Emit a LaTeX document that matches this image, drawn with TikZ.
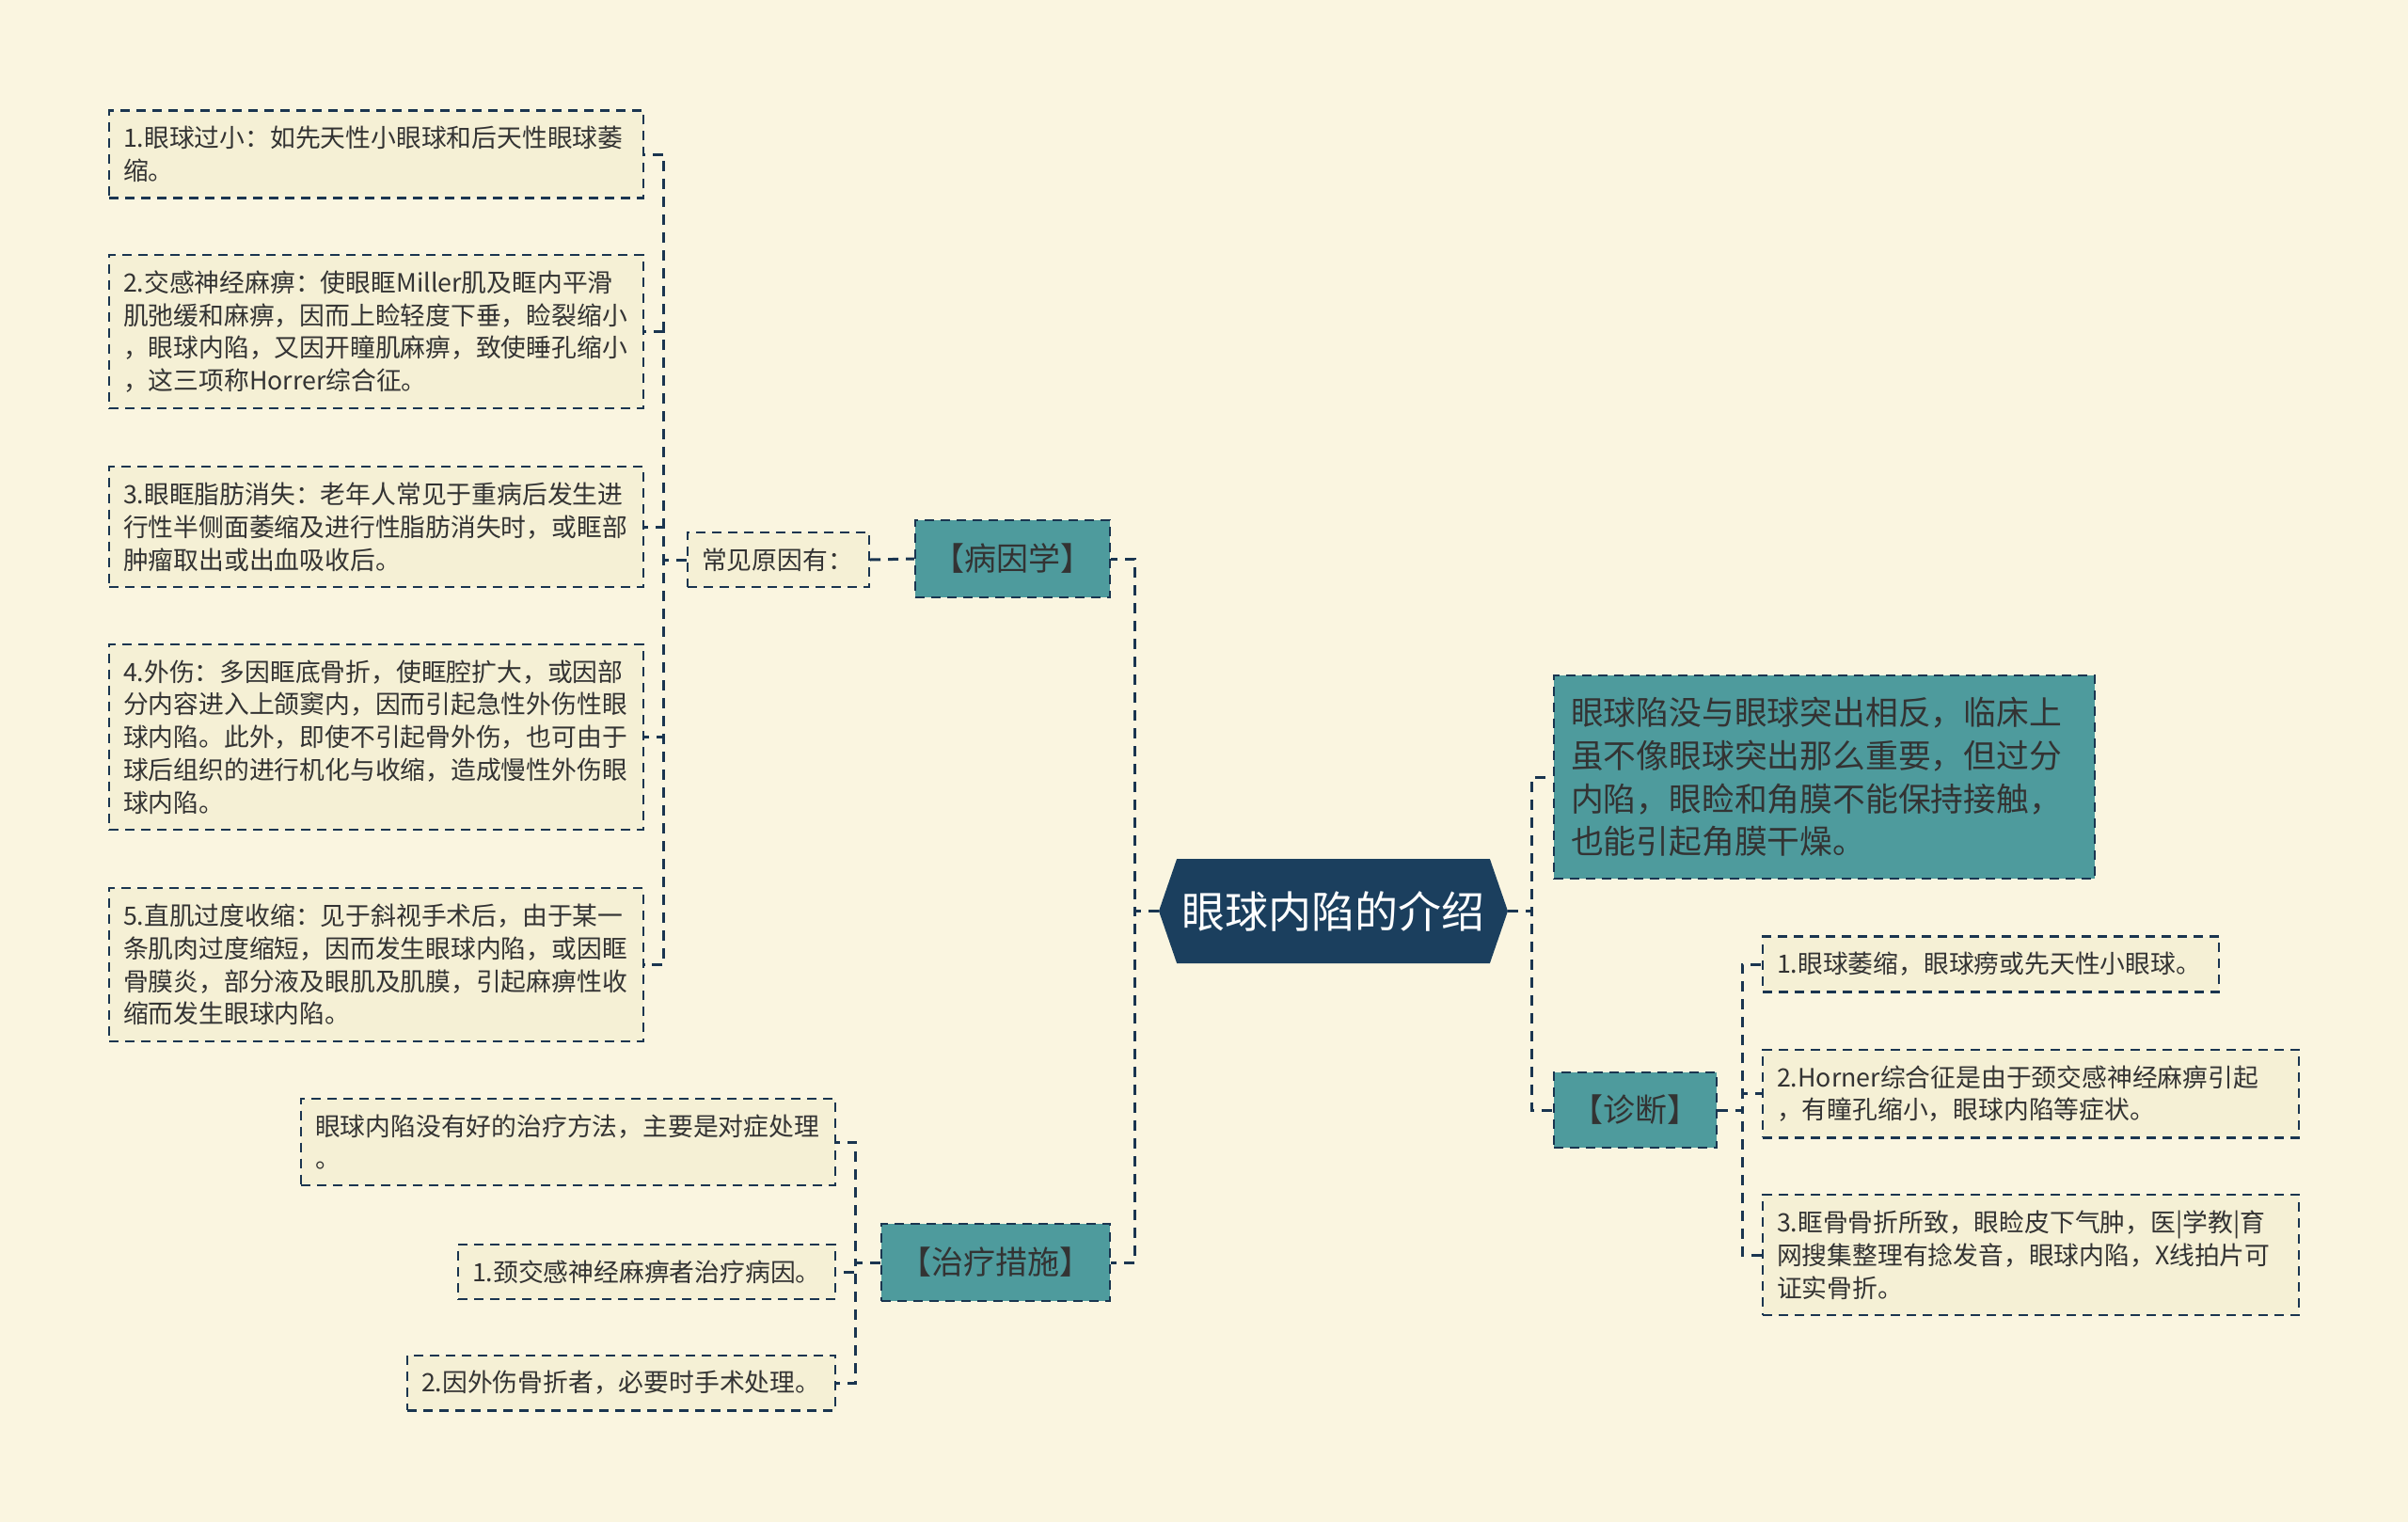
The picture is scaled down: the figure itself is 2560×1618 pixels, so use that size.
\documentclass[tikz,border=0pt]{standalone}
\usepackage{fontspec}
\setmainfont{Noto Sans CJK SC}
\usetikzlibrary{shapes.symbols}
\definecolor{bgcream}{HTML}{FAF5E0}
\definecolor{leaffill}{HTML}{F5F0D5}
\definecolor{tealbox}{HTML}{4E9B9D}
\definecolor{navyhub}{HTML}{1B3F5E}
\definecolor{edge}{HTML}{1A3550}
\definecolor{ink}{HTML}{333333}
\begin{document}
\begin{tikzpicture}[x=0.5pt,y=-0.5pt,
  leaf/.style={draw=edge,fill=leaffill,text=ink,dash pattern=on 5pt off 3.5pt,line width=1.2pt,
    font=\fontsize{13.4}{17.4}\selectfont,align=left,inner xsep=7.5pt,inner ysep=8.3pt},
  topic/.style={draw=edge,fill=tealbox,text=ink,dash pattern=on 5pt off 3.5pt,line width=1.2pt,
    font=\fontsize{17}{22}\selectfont,inner sep=0pt},
  link/.style={draw=edge,dash pattern=on 5.5pt off 4pt,line width=1.5pt}]
\useasboundingbox (0,0) rectangle (2560,1618);
\fill[bgcream] (0,0) rectangle (2560,1618);
\node[shape=signal,signal to=east and west,signal pointer angle=142,fill=navyhub,text=white,
  minimum width=185.5pt,minimum height=55.5pt,inner sep=0pt,font=\fontsize{23}{28}\selectfont] (hub) at (1417.5,968.5) {眼球内陷的介绍};
\node[topic,minimum width=103.5pt,minimum height=41pt] (cause) at (1076.5,594) {【病因学】};
\node[topic,minimum width=121.5pt,minimum height=41pt] (treat) at (1058.5,1342) {【治疗措施】};
\node[topic,minimum width=86.5pt,minimum height=40pt] (diag) at (1738.5,1180) {【诊断】};
\node[topic,text width=269.5pt,align=left,inner xsep=9pt,inner ysep=11.5pt,
  font=\fontsize{17.4}{22.85}\selectfont] (sum) at (1939.5,826) {眼球陷没与眼球突出相反，临床上\\虽不像眼球突出那么重要，但过分\\内陷，眼睑和角膜不能保持接触，\\也能引起角膜干燥。};
\node[leaf,text width=81.5pt] (common) at (827.5,595) {常见原因有：};
\node[leaf,text width=269pt] (eye1) at (400,164) {1.眼球过小：如先天性小眼球和后天性眼球萎\\缩。};
\node[leaf,text width=269pt] (eye2) at (400,352.5) {2.交感神经麻痹：使眼眶Miller肌及眶内平滑\\肌弛缓和麻痹，因而上睑轻度下垂，睑裂缩小\\，眼球内陷，又因开瞳肌麻痹，致使睡孔缩小\\，这三项称Horrer综合征。};
\node[leaf,text width=269pt] (eye3) at (400,560) {3.眼眶脂肪消失：老年人常见于重病后发生进\\行性半侧面萎缩及进行性脂肪消失时，或眶部\\肿瘤取出或出血吸收后。};
\node[leaf,text width=269pt] (eye4) at (400,783.5) {4.外伤：多因眶底骨折，使眶腔扩大，或因部\\分内容进入上颌窦内，因而引起急性外伤性眼\\球内陷。此外，即使不引起骨外伤，也可由于\\球后组织的进行机化与收缩，造成慢性外伤眼\\球内陷。};
\node[leaf,text width=269pt] (eye5) at (400,1025.5) {5.直肌过度收缩：见于斜视手术后，由于某一\\条肌肉过度缩短，因而发生眼球内陷，或因眶\\骨膜炎，部分液及眼肌及肌膜，引起麻痹性收\\缩而发生眼球内陷。};
\node[leaf,text width=227.5pt] (dx1) at (2116.5,1025) {1.眼球萎缩，眼球痨或先天性小眼球。};
\node[leaf,text width=270pt] (dx2) at (2159,1162.5) {2.Horner综合征是由于颈交感神经麻痹引起\\，有瞳孔缩小，眼球内陷等症状。};
\node[leaf,text width=270pt] (dx3) at (2159,1334) {3.眶骨骨折所致，眼睑皮下气肿，医|学教|育\\网搜集整理有捻发音，眼球内陷，X线拍片可\\证实骨折。};
\node[leaf,text width=269pt] (tr0) at (604,1214) {眼球内陷没有好的治疗方法，主要是对症处理\\。};
\node[leaf,text width=185.5pt] (tr1) at (687.5,1352) {1.颈交感神经麻痹者治疗病因。};
\node[leaf,text width=212.5pt] (tr2) at (660.5,1470) {2.因外伤骨折者，必要时手术处理。};
\draw[link] (hub.west) -- ++(-25,0) |- (cause.east);
\draw[link] (hub.west) -- ++(-25,0) |- (treat.east);
\draw[link] (hub.east) -- ++(25,0) |- (sum.west);
\draw[link] (hub.east) -- ++(25,0) |- (diag.west);
\draw[link] (common.east) -- (cause.west);
\foreach \n in {eye1,eye2,eye3,eye4,eye5}
  \draw[link] (common.west) -- ++(-24,0) |- (\n.east);
\foreach \n in {dx1,dx2,dx3}
  \draw[link] (diag.east) -- ++(26,0) |- (\n.west);
\foreach \n in {tr0,tr1,tr2}
  \draw[link] (treat.west) -- ++(-26,0) |- (\n.east);
\end{tikzpicture}
\end{document}
